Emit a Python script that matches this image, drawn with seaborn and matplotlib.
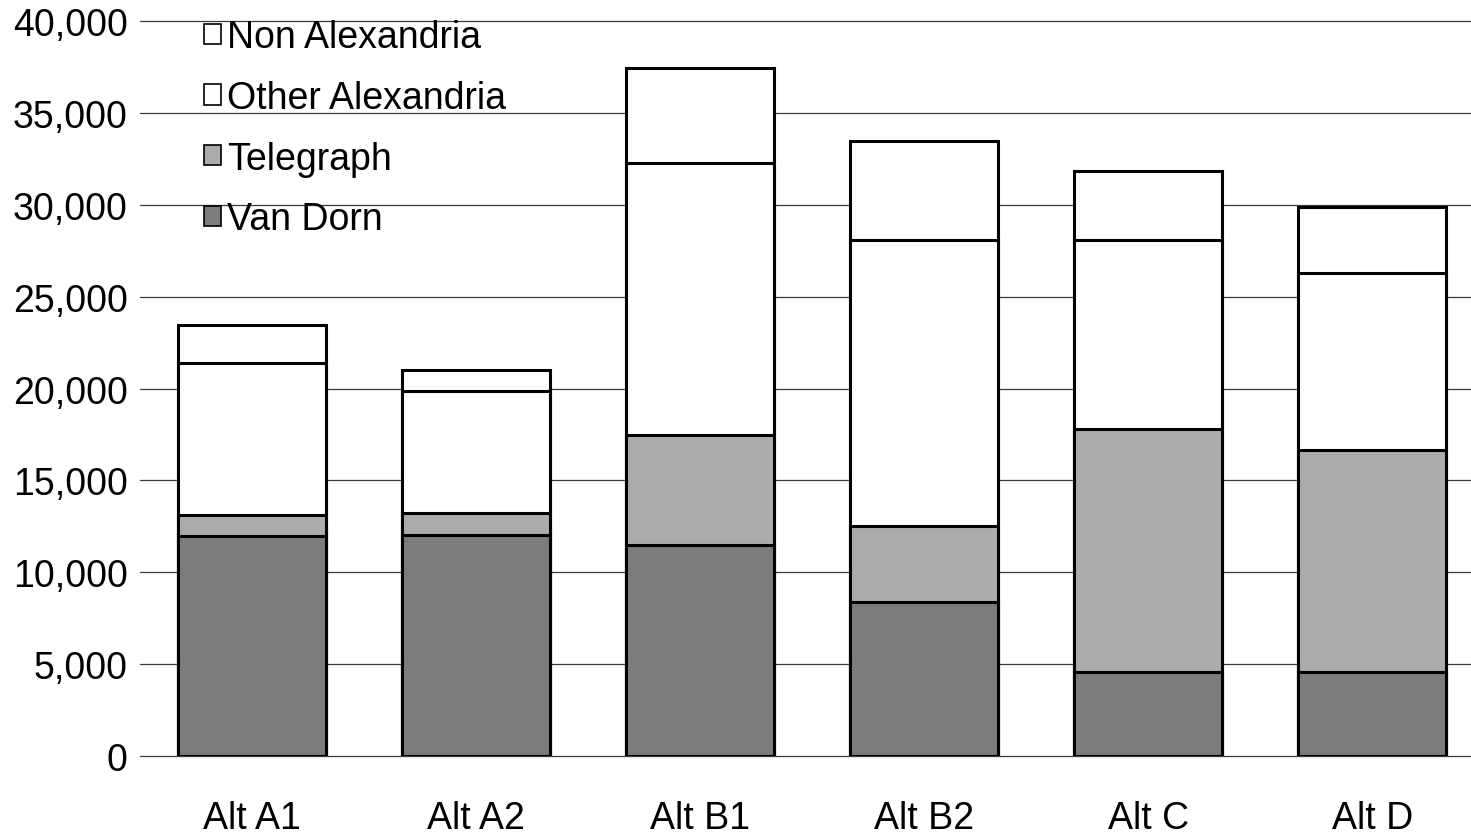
import matplotlib
matplotlib.use("Agg")
import matplotlib.pyplot as plt
import seaborn as sns
import numpy as np
from matplotlib.ticker import FuncFormatter
from matplotlib.patches import Patch

categories = ["Alt A1", "Alt A2", "Alt B1", "Alt B2", "Alt C", "Alt D"]
van_dorn = [12000, 12050, 11500, 8400, 4550, 4550]
telegraph = [1100, 1150, 5950, 4100, 13250, 12100]
other_alexandria = [8300, 6650, 14800, 15600, 10300, 9650]
non_alexandria = [2050, 1150, 5200, 5400, 3750, 3600]
series_names = ["Van Dorn", "Telegraph", "Other Alexandria", "Non Alexandria"]
yticks = [0, 5000, 10000, 15000, 20000, 25000, 30000, 35000, 40000]

colors = {"Van Dorn": "#7c7c7c", "Telegraph": "#ababab",
          "Other Alexandria": "#ffffff", "Non Alexandria": "#ffffff"}

sns.set_theme(style="white")
plt.rcParams["font.family"] = ["Liberation Sans", "DejaVu Sans"]
plt.rcParams["text.color"] = "black"
plt.rcParams["xtick.color"] = "black"
plt.rcParams["ytick.color"] = "black"

fig = plt.figure(figsize=(14.71, 8.37), dpi=100)
ax = fig.add_axes([0.0952, 0.0956, 0.9048, 0.878])

series = [van_dorn, telegraph, other_alexandria, non_alexandria]
cum = np.cumsum(np.array(series), axis=0)
# draw from the top layer down so lower layers overlay
for i in range(len(series) - 1, -1, -1):
    sns.barplot(x=categories, y=cum[i], color=colors[series_names[i]],
                saturation=1, edgecolor="black", linewidth=2.2, width=0.66,
                ax=ax, zorder=2)

ax.set_ylim(0, 40000)
ax.set_xlim(-0.5, 5.44)
ax.set_yticks(yticks)
ax.yaxis.set_major_formatter(FuncFormatter(lambda v, p: f"{int(v):,}"))
ax.yaxis.grid(True, color="#3a3a3a", linewidth=0.9)
for gl in ax.get_ygridlines():
    gl.set_clip_on(False)
ax.set_axisbelow(True)
for s in ax.spines.values():
    s.set_visible(False)
ax.tick_params(axis="y", length=0, pad=9, labelsize=27, labelcolor="black")
ax.tick_params(axis="x", length=0, pad=32, labelsize=27, labelcolor="black")
ax.set_xlabel("")
ax.set_ylabel("")

handles = [Patch(facecolor=colors[n], edgecolor="black", linewidth=1.2)
           for n in series_names[::-1]]
leg = ax.legend(handles, series_names[::-1], loc="upper left",
                bbox_to_anchor=(0.139, 0.976), bbox_transform=fig.transFigure,
                frameon=False, fontsize=27, handlelength=0.45, handleheight=0.45,
                handletextpad=0.15, labelspacing=0.66, borderpad=0, borderaxespad=0)
for t in leg.get_texts():
    t.set_color("black")

fig.savefig("out.png", dpi=100)
